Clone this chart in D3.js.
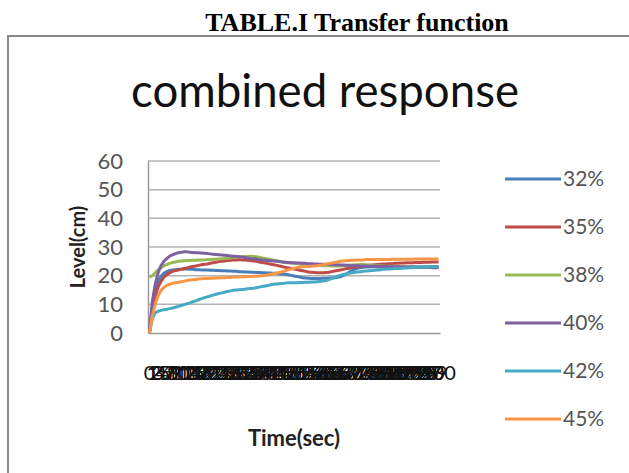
<!DOCTYPE html>
<html>
<head>
<meta charset="utf-8">
<script src="https://cdn.jsdelivr.net/npm/d3@7"></script>
<style>
  html, body { margin: 0; padding: 0; background: #fff; }
  svg { display: block; }
</style>
</head>
<body>
<svg id="chart" width="629" height="473"></svg>
<script>
// Time axis: one category per second, 0 .. 100
const times = [
  0,1,2,3,4,5,6,7,8,9,10,11,12,13,14,15,16,17,18,19,20,21,22,23,24,25,26,27,28,29,
  30,31,32,33,34,35,36,37,38,39,40,41,42,43,44,45,46,47,48,49,50,51,52,53,54,55,56,57,58,59,
  60,61,62,63,64,65,66,67,68,69,70,71,72,73,74,75,76,77,78,79,80,81,82,83,84,85,86,87,88,89,
  90,91,92,93,94,95,96,97,98,99,100
];

// Level (cm) for each valve opening
const level32 = [
  0, 10, 15, 18, 19.8, 20.8, 21.4, 21.8, 22, 22.1,
  22.2, 22.2, 22.3, 22.3, 22.2, 22.2, 22.1, 22.1, 22, 22,
  22, 21.9, 21.9, 21.8, 21.8, 21.7, 21.7, 21.6, 21.6, 21.5,
  21.5, 21.4, 21.4, 21.3, 21.3, 21.2, 21.2, 21.1, 21.1, 21,
  21, 20.9, 20.9, 20.8, 20.8, 20.7, 20.6, 20.5, 20.3, 20.1,
  19.9, 19.7, 19.5, 19.3, 19.2, 19.1, 19, 19, 19, 19,
  19.1, 19.1, 19.2, 19.2, 19.3, 19.4, 19.6, 20, 20.6, 21.2,
  21.8, 22.3, 22.6, 22.8, 22.9, 23, 23, 23.1, 23.1, 23,
  23, 22.9, 22.8, 22.8, 22.7, 22.7, 22.7, 22.8, 22.8, 22.9,
  22.9, 23, 23, 23, 23.1, 23.1, 23.1, 23.2, 23.2, 23.2,
  23.2
];
const level35 = [
  0, 8, 13, 16, 18, 19.5, 20.3, 21, 21.5, 21.8,
  22, 22.2, 22.5, 22.7, 23, 23.2, 23.4, 23.6, 23.8, 24,
  24.1, 24.3, 24.5, 24.7, 24.9, 25, 25.1, 25.3, 25.4, 25.5,
  25.5, 25.6, 25.5, 25.5, 25.4, 25.3, 25.1, 25, 24.8, 24.6,
  24.4, 24.2, 24, 23.8, 23.6, 23.4, 23.1, 22.9, 22.7, 22.5,
  22.3, 22.1, 21.9, 21.7, 21.5, 21.3, 21.2, 21.1, 21, 21,
  21, 21.1, 21.2, 21.4, 21.6, 21.8, 22, 22.2, 22.4, 22.6,
  22.8, 23, 23.1, 23.3, 23.4, 23.5, 23.6, 23.7, 23.8, 23.9,
  24, 24.1, 24.1, 24.2, 24.2, 24.3, 24.3, 24.4, 24.4, 24.5,
  24.5, 24.5, 24.6, 24.6, 24.6, 24.7, 24.7, 24.7, 24.8, 24.8,
  24.8
];
const level38 = [
  19.5, 20, 21, 22, 22.8, 23.4, 23.9, 24.3, 24.6, 24.8,
  25, 25.1, 25.2, 25.3, 25.3, 25.4, 25.4, 25.5, 25.5, 25.5,
  25.6, 25.6, 25.7, 25.7, 25.8, 25.9, 26, 26.1, 26.2, 26.3,
  26.4, 26.5, 26.6, 26.7, 26.7, 26.8, 26.7, 26.6, 26.4, 26.2,
  26, 25.8, 25.6, 25.4, 25.2, 25, 24.8, 24.6, 24.5, 24.4,
  24.3, 24.2, 24.1, 24, 23.9, 23.8, 23.7, 23.7, 23.6, 23.6,
  23.5, 23.5, 23.5, 23.4, 23.4, 23.4, 23.4, 23.5, 23.5, 23.6,
  23.7, 23.8, 23.8, 23.9, 23.9, 23.8, 23.7, 23.6, 23.5, 23.5,
  23.4, 23.4, 23.3, 23.3, 23.3, 23.2, 23.2, 23.2, 23.2, 23.1,
  23.1, 23.1, 23.1, 23.1, 23, 23, 23, 23, 23, 23,
  23
];
const level40 = [
  0, 11, 17, 21, 23.5, 25, 26, 26.8, 27.3, 27.7,
  28, 28.2, 28.3, 28.3, 28.2, 28.1, 28, 28, 27.9, 27.8,
  27.7, 27.6, 27.5, 27.4, 27.3, 27.2, 27.1, 27, 26.9, 26.8,
  26.7, 26.6, 26.5, 26.3, 26.2, 26, 25.9, 25.8, 25.6, 25.5,
  25.4, 25.3, 25.2, 25.1, 25, 24.9, 24.8, 24.7, 24.6, 24.5,
  24.5, 24.4, 24.4, 24.3, 24.3, 24.2, 24.2, 24.1, 24.1, 24,
  24, 24, 23.9, 23.9, 23.8, 23.8, 23.7, 23.7, 23.6, 23.6,
  23.5, 23.5, 23.5, 23.4, 23.4, 23.4, 23.3, 23.3, 23.3, 23.2,
  23.2, 23.2, 23.2, 23.1, 23.1, 23.1, 23.1, 23, 23, 23,
  23, 23, 23, 22.9, 22.9, 22.9, 22.9, 22.9, 22.8, 22.8,
  22.8
];
const level42 = [
  0, 5, 7, 7.6, 7.9, 8.1, 8.3, 8.5, 8.7, 9,
  9.3, 9.6, 9.9, 10.2, 10.5, 10.9, 11.2, 11.6, 12, 12.3,
  12.6, 12.9, 13.2, 13.5, 13.8, 14, 14.2, 14.5, 14.7, 14.9,
  15, 15.1, 15.2, 15.3, 15.4, 15.5, 15.6, 15.8, 16, 16.2,
  16.4, 16.6, 16.8, 17, 17.1, 17.2, 17.3, 17.4, 17.5, 17.5,
  17.5, 17.5, 17.6, 17.6, 17.7, 17.7, 17.8, 17.8, 17.9, 18,
  18.1, 18.3, 18.6, 19, 19.4, 19.8, 20.1, 20.4, 20.6, 20.8,
  21, 21.2, 21.3, 21.4, 21.5, 21.6, 21.7, 21.8, 21.9, 22,
  22.1, 22.2, 22.3, 22.3, 22.4, 22.5, 22.5, 22.6, 22.7, 22.7,
  22.8, 22.8, 22.9, 22.9, 23, 23, 23, 23.1, 23.1, 23.1,
  23.2
];
const level45 = [
  0, 6, 10, 13, 14.8, 15.9, 16.6, 17, 17.3, 17.5,
  17.7, 17.9, 18.1, 18.3, 18.5, 18.6, 18.7, 18.8, 18.9, 19,
  19, 19.1, 19.1, 19.2, 19.2, 19.3, 19.3, 19.4, 19.4, 19.5,
  19.5, 19.5, 19.6, 19.6, 19.7, 19.7, 19.8, 19.8, 19.9, 20,
  20.1, 20.3, 20.5, 20.7, 20.9, 21.1, 21.4, 21.7, 22, 22.3,
  22.6, 22.8, 23, 23.1, 23.2, 23.2, 23.3, 23.4, 23.5, 23.6,
  23.8, 24, 24.2, 24.4, 24.6, 24.8, 25, 25.1, 25.2, 25.3,
  25.4, 25.4, 25.5, 25.5, 25.5, 25.6, 25.6, 25.6, 25.6, 25.6,
  25.6, 25.6, 25.6, 25.6, 25.7, 25.7, 25.7, 25.7, 25.7, 25.7,
  25.7, 25.7, 25.8, 25.8, 25.8, 25.8, 25.8, 25.8, 25.8, 25.8,
  25.8
];

const seriesNames = ["32%", "35%", "38%", "40%", "42%", "45%"];
const seriesValues = [level32, level35, level38, level40, level42, level45];
const seriesColors = ["#4A7EBB", "#BE4B48", "#98B954", "#7D60A0", "#46AAC5", "#F79646"];
const yTicks = [0, 10, 20, 30, 40, 50, 60];

const svg = d3.select("#chart");
const uiFont = "Lato, 'Open Sans', 'DejaVu Sans', sans-serif";

// page caption above the chart frame
svg.append("text")
  .attr("x", 357).attr("y", 31)
  .attr("text-anchor", "middle")
  .attr("font-family", "'Liberation Serif', 'Times New Roman', serif")
  .attr("font-weight", "bold")
  .attr("font-size", 26)
  .attr("fill", "#000")
  .text("TABLE.I Transfer function");

// chart frame (runs off the right and bottom edges)
svg.append("rect")
  .attr("x", 8).attr("y", 36)
  .attr("width", 660).attr("height", 480)
  .attr("fill", "#fff")
  .attr("stroke", "#8a8a8a")
  .attr("stroke-width", 2);

// chart title
const title = svg.append("text")
  .attr("x", 325).attr("y", 107)
  .attr("text-anchor", "middle")
  .attr("font-family", uiFont)
  .attr("font-size", 44)
  .attr("fill", "#111")
  .text("combined response");
const tw = title.node().getComputedTextLength();
title.attr("font-size", 44 * 388 / tw);

// plot area
const plot = { left: 148, right: 440, top: 161, bottom: 333 };

const x = d3.scaleBand()
  .domain(times)
  .range([plot.left, plot.right])
  .paddingInner(0).paddingOuter(0);

const y = d3.scaleLinear()
  .domain([0, 60])
  .range([plot.bottom, plot.top]);

// horizontal gridlines
svg.append("g")
  .selectAll("line")
  .data(yTicks.filter(d => d > 0))
  .join("line")
  .attr("x1", plot.left).attr("x2", plot.right)
  .attr("y1", d => y(d)).attr("y2", d => y(d))
  .attr("stroke", "#b4b4b4")
  .attr("stroke-width", 1.5);

// value axis
const yAxis = svg.append("g")
  .attr("transform", `translate(${plot.left},0)`)
  .call(d3.axisLeft(y).tickValues(yTicks).tickSize(0).tickPadding(25));
yAxis.select(".domain").attr("stroke", "#9a9a9a").attr("stroke-width", 1.5);
yAxis.selectAll("text")
  .attr("font-family", uiFont)
  .attr("font-size", 22)
  .attr("fill", "#555");

// category axis: every second is labelled, so the labels pile up
const xAxis = svg.append("g")
  .attr("transform", `translate(0,${plot.bottom})`)
  .call(d3.axisBottom(x).tickSize(0).tickPadding(33));
xAxis.select(".domain").attr("stroke", "#9a9a9a").attr("stroke-width", 1.5);
xAxis.selectAll("text")
  .attr("font-family", uiFont)
  .attr("font-size", 20)
  .attr("fill", "#111");

// axis titles
svg.append("text")
  .attr("transform", `translate(77,${(plot.top + plot.bottom) / 2}) rotate(-90)`)
  .attr("text-anchor", "middle")
  .attr("dominant-baseline", "central")
  .attr("font-family", uiFont)
  .attr("font-weight", "bold")
  .attr("font-size", 20)
  .attr("fill", "#222")
  .text("Level(cm)");

svg.append("text")
  .attr("x", (plot.left + plot.right) / 2).attr("y", 446)
  .attr("text-anchor", "middle")
  .attr("font-family", uiFont)
  .attr("font-weight", "bold")
  .attr("font-size", 22)
  .attr("fill", "#222")
  .text("Time(sec)");

// series lines
const line = d3.line()
  .x((d, i) => x(times[i]) + x.bandwidth() / 2)
  .y(d => y(d));

svg.append("g")
  .selectAll("path")
  .data(seriesValues)
  .join("path")
  .attr("d", d => line(d))
  .attr("fill", "none")
  .attr("stroke", (d, i) => seriesColors[i])
  .attr("stroke-width", 3)
  .attr("stroke-linejoin", "round");

// legend
const legend = svg.append("g")
  .selectAll("g")
  .data(seriesNames)
  .join("g")
  .attr("transform", (d, i) => `translate(505,${179 + i * 48})`);
legend.append("line")
  .attr("x1", 0).attr("x2", 56)
  .attr("stroke", (d, i) => seriesColors[i])
  .attr("stroke-width", 3);
legend.append("text")
  .attr("x", 58).attr("dy", "0.35em")
  .attr("font-family", uiFont)
  .attr("font-size", 21)
  .attr("fill", "#555")
  .text(d => d);
</script>
</body>
</html>
